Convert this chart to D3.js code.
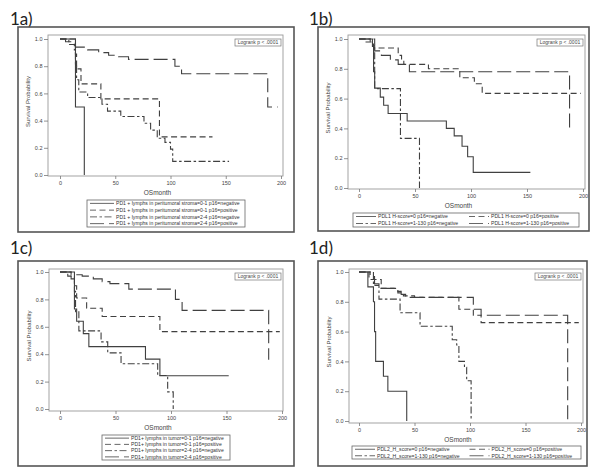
<!DOCTYPE html>
<html><head><meta charset="utf-8">
<script src="https://cdn.jsdelivr.net/npm/d3@7"></script>
<style>
html,body{margin:0;padding:0;background:#fff;}
svg{display:block;font-family:"Liberation Sans",Arial,sans-serif;}
</style></head>
<body>
<script>
// ---------------- DATA ----------------
const panelTitles = ["1a)", "1b)", "1c)", "1d)"];
const xTicks = [0, 50, 100, 150, 200];
const yTicks = [0.0, 0.2, 0.4, 0.6, 0.8, 1.0];
const xLabel = "OSmonth";
const yLabel = "Survival Probability";
const logrankText = "Logrank p < .0001";

// Panel 1a
const labelsA = [
  "PD1 + lymphs in peritumoral stroma=0-1 p16=negative",
  "PD1 + lymphs in peritumoral stroma=0-1 p16=positive",
  "PD1 + lymphs in peritumoral stroma=2-4 p16=negative",
  "PD1 + lymphs in peritumoral stroma=2-4 p16=positive"
];
const a1 = [[0,1],[14,0.5],[22,0]];
const a2 = [[0,1],[14,0.89],[15,0.78],[19,0.67],[37,0.56],[90,0.28],[138,0.28]];
const a3 = [[0,1],[8,0.96],[13,0.92],[14,0.80],[15,0.70],[17,0.61],[25,0.57],[38,0.52],[43,0.47],[55,0.43],[76,0.38],[82,0.33],[88,0.27],[95,0.24],[100,0.19],[102,0.10],[153,0.10]];
const a4 = [[0,1],[5,0.98],[13,0.96],[14,0.94],[25,0.92],[35,0.90],[44,0.88],[53,0.87],[62,0.85],[104,0.80],[110,0.745],[188,0.50],[197,0.50]];

// Panel 1b
const labelsB = [
  "PDL1 H-score=0 p16=negative",
  "PDL1 H-score=0 p16=positive",
  "PDL1 H-score=1-130 p16=negative",
  "PDL1 H-score=1-130 p16=positive"
];
const b1 = [[0,1],[12,0.95],[13,0.78],[14,0.67],[19,0.61],[22,0.555],[26,0.50],[43,0.45],[78,0.40],[85,0.35],[92,0.28],[97,0.21],[102,0.105],[153,0.105]];
const b2 = [[0,1],[5,0.98],[13,0.94],[35,0.89],[38,0.86],[40,0.83],[62,0.80],[90,0.74],[103,0.70],[110,0.635],[198,0.635]];
const b3 = [[0,1],[14,0.667],[37,0.333],[54,0]];
const b4 = [[0,1],[10,0.96],[14,0.92],[20,0.89],[28,0.86],[35,0.83],[45,0.78],[188,0.39]];

// Panel 1c
const labelsC = [
  "PD1+ lymphs in tumor=0-1 p16=negative",
  "PD1+ lymphs in tumor=0-1 p16=positive",
  "PD1+ lymphs in tumor=2-4 p16=negative",
  "PD1+ lymphs in tumor=2-4 p16=positive"
];
const c1 = [[0,1],[13,0.73],[15,0.64],[21,0.55],[26,0.455],[77,0.364],[90,0.243],[152,0.243]];
const c2 = [[0,1],[7,0.97],[13,0.90],[15,0.81],[24,0.735],[38,0.675],[90,0.565],[198,0.565]];
const c3 = [[0,1],[10,0.95],[13,0.86],[14,0.71],[17,0.57],[37,0.49],[43,0.41],[55,0.33],[88,0.245],[97,0.125],[102,0]];
const c4 = [[0,1],[10,0.98],[20,0.97],[30,0.95],[38,0.93],[45,0.915],[62,0.875],[104,0.80],[110,0.72],[188,0.36]];

// Panel 1d
const labelsD = [
  "PDL2_H_score=0 p16=negative",
  "PDL2_H_score=0 p16=positive",
  "PDL2_H_score=1-130 p16=negative",
  "PDL2_H_score=1-130 p16=positive"
];
const d1 = [[0,1],[8,0.9],[13,0.8],[14,0.6],[15,0.4],[22,0.3],[26,0.2],[43,0]];
const d2 = [[0,1],[9,0.95],[20,0.89],[35,0.86],[40,0.84],[50,0.83],[90,0.75],[103,0.71],[110,0.66],[198,0.66]];
const d3v = [[0,1],[13,0.909],[18,0.818],[37,0.727],[55,0.636],[84,0.545],[88,0.51],[90,0.40],[95,0.36],[97,0.27],[101,0]];
const d4 = [[0,1],[10,0.97],[14,0.92],[18,0.89],[35,0.87],[38,0.85],[42,0.83],[103,0.75],[110,0.71],[188,0]];

// ---------------- STYLE / LAYOUT ----------------
const dashes = [null, "6,3.5", "7,2.5,2.5,2.5", "14,5"];
const lineColor = "#404040";
const panels = [
  {title: panelTitles[0], tx: 10, ty: 25, outer: [18,27,294,232], plot: [48,35,283,176], xr: [60,281], yr: [175,39],
   legend: {box: [87,200,245,227], cols: 1}, labels: labelsA, series: [a1,a2,a3,a4]},
  {title: panelTitles[1], tx: 309, ty: 25, outer: [318,27,589,231], plot: [348,35,585,189], xr: [359,583], yr: [188,39],
   legend: {box: [353,213,579,227], cols: 2}, labels: labelsB, series: [b1,b2,b3,b4]},
  {title: panelTitles[2], tx: 10, ty: 254, outer: [18,261,294,466], plot: [49,269,283,411], xr: [60,282], yr: [409,272],
   legend: {box: [102,435,230,460], cols: 1}, labels: labelsC, series: [c1,c2,c3,c4]},
  {title: panelTitles[3], tx: 309, ty: 254, outer: [318,261,587,466], plot: [349,269,583,423], xr: [359,581], yr: [421,272],
   legend: {box: [352,446,581,459], cols: 2}, labels: labelsD, series: [d1,d2,d3v,d4]}
];

const svg = d3.select("body").append("svg").attr("width", 601).attr("height", 476);

panels.forEach(p => {
  const g = svg.append("g");
  // title
  g.append("text").attr("x", p.tx).attr("y", p.ty).attr("font-family", "Lato, 'Open Sans', sans-serif")
    .attr("font-size", 17).attr("fill", "#222").text(p.title);
  // outer frame
  const [ox0, oy0, ox1, oy1] = p.outer;
  g.append("rect").attr("x", ox0).attr("y", oy0).attr("width", ox1 - ox0).attr("height", oy1 - oy0)
    .attr("fill", "none").attr("stroke", "#555").attr("stroke-width", 1.6);
  // plot frame
  const [px0, py0, px1, py1] = p.plot;
  g.append("rect").attr("x", px0).attr("y", py0).attr("width", px1 - px0).attr("height", py1 - py0)
    .attr("fill", "none").attr("stroke", "#9a9a9a").attr("stroke-width", 0.9);

  const x = d3.scaleLinear().domain([0, 200]).range(p.xr);
  const y = d3.scaleLinear().domain([0, 1]).range(p.yr);

  // axes
  const ya = g.append("g").attr("transform", `translate(${px0},0)`)
    .call(d3.axisLeft(y).tickValues(yTicks).tickSize(4).tickPadding(1.5).tickFormat(d3.format(".1f")));
  const xa = g.append("g").attr("transform", `translate(0,${py1})`)
    .call(d3.axisBottom(x).tickValues(xTicks).tickSize(3).tickPadding(2));
  [ya, xa].forEach(a => {
    a.select(".domain").remove();
    a.selectAll(".tick line").attr("stroke", "#777").attr("stroke-width", 0.8);
    a.selectAll(".tick text").attr("font-size", 5.5).attr("fill", "#444").attr("font-family", "'Liberation Sans', Arial, sans-serif");
  });

  // axis labels
  g.append("text").attr("x", (px0 + px1) / 2 - 8).attr("y", py1 + 19).attr("text-anchor", "middle")
    .attr("font-size", 6.5).attr("fill", "#444").text(xLabel);
  g.append("text").attr("transform", `translate(${px0 - 18},${(py0 + py1) / 2 - 4}) rotate(-90)`)
    .attr("text-anchor", "middle").attr("font-size", 6).attr("fill", "#444").text(yLabel);

  // logrank box
  const lw = 46, lh = 7;
  g.append("rect").attr("x", px1 - 2 - lw).attr("y", py0 + 4).attr("width", lw).attr("height", lh)
    .attr("fill", "#fff").attr("stroke", "#777").attr("stroke-width", 0.7);
  g.append("text").attr("x", px1 - 2 - lw / 2).attr("y", py0 + 4 + lh - 1.7).attr("text-anchor", "middle")
    .attr("font-size", 5).attr("fill", "#444").text(logrankText);

  // curves
  const line = d3.line().x(d => x(d[0])).y(d => y(d[1])).curve(d3.curveStepAfter);
  p.series.forEach((s, i) => {
    g.append("path").datum(s).attr("d", line).attr("fill", "none")
      .attr("stroke", lineColor).attr("stroke-width", 1.1)
      .attr("stroke-dasharray", dashes[i]);
  });

  // legend
  const [lx0, ly0, lx1, ly1] = p.legend.box;
  g.append("rect").attr("x", lx0).attr("y", ly0).attr("width", lx1 - lx0).attr("height", ly1 - ly0)
    .attr("fill", "#fff").attr("stroke", "#666").attr("stroke-width", 0.8);
  const cols = p.legend.cols;
  const rows = Math.ceil(p.labels.length / cols);
  const rowH = (ly1 - ly0) / rows;
  const colW = (lx1 - lx0) / cols;
  p.labels.forEach((lab, i) => {
    const r = cols === 1 ? i : Math.floor(i / 2);
    const c = cols === 1 ? 0 : i % 2;
    const cy = ly0 + rowH * (r + 0.5);
    const sx = lx0 + 3 + c * colW;
    const sw = cols === 1 ? 24 : 20;
    g.append("line").attr("x1", sx).attr("x2", sx + sw).attr("y1", cy).attr("y2", cy)
      .attr("stroke", lineColor).attr("stroke-width", 0.8).attr("stroke-dasharray", dashes[i]);
    g.append("text").attr("x", sx + sw + 2).attr("y", cy + 1.8).attr("font-size", 5.1).attr("fill", "#333").text(lab);
  });
});
</script>
</body></html>
